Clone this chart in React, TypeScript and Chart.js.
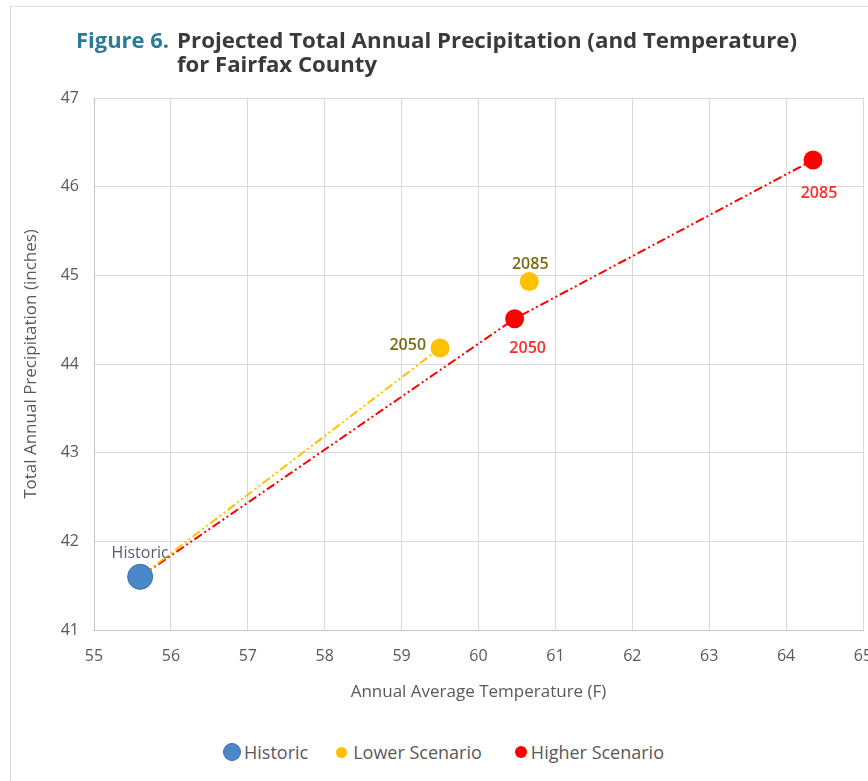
import React, { useEffect, useLayoutEffect, useRef } from 'react';
import { Chart, registerables } from 'chart.js';

Chart.register(...registerables);

// ---- data ----
const X_MIN = 55;
const X_MAX = 65;
const Y_MIN = 41;
const Y_MAX = 47;
const seriesNames = ['Historic', 'Lower Scenario', 'Higher Scenario'];
const historicTemp = [55.6];
const historicPrecip = [41.6];
const historicLabels = ['Historic'];
const scenarioYears = ['2050', '2085'];
const lowerTemp = [59.5, 60.66];
const lowerPrecip = [44.18, 44.93];
const higherTemp = [60.47, 64.35];
const higherPrecip = [44.51, 46.3];

const titleLead = 'Figure 6.';
const titleLine1 = 'Projected Total Annual Precipitation (and Temperature)';
const titleLine2 = 'for Fairfax County';
const xTitle = 'Annual Average Temperature (F)';
const yTitle = 'Total Annual Precipitation (inches)';

const COLORS = {
  historic: '#4a87cb',
  historicBorder: '#3b6ea8',
  lower: '#ffc000',
  higher: '#ff0000',
  lowerText: '#7d6a12',
  higherText: '#ff2a2a',
  historicText: '#5a5a78',
  grid: '#d9d9d9',
  axis: '#c4c4c4',
  text: '#595959',
};

const FONT = "'Open Sans', 'DejaVu Sans', sans-serif";

const toPoints = (xs: number[], ys: number[]) => xs.map((x, i) => ({ x, y: ys[i] }));

const pointLabelPlugin = {
  id: 'pointLabelPlugin',
  afterDatasetsDraw(chart: any) {
    const ctx = chart.ctx;
    chart.data.datasets.forEach((ds: any, di: number) => {
      if (!ds.pointTexts) return;
      const meta = chart.getDatasetMeta(di);
      meta.data.forEach((el: any, i: number) => {
        const off = ds.pointTextOffsets[i];
        ctx.save();
        ctx.font = `${ds.pointTextWeight || 400} 16px ${FONT}`;
        ctx.fillStyle = ds.pointTextColor;
        ctx.textAlign = off.align;
        ctx.textBaseline = 'middle';
        ctx.fillText(ds.pointTexts[i], el.x + off.dx, el.y + off.dy);
        ctx.restore();
      });
    });
  },
};

function FitText({ text, width, style }: { text: string; width: number; style: any }) {
  const ref = useRef<HTMLSpanElement>(null);
  useLayoutEffect(() => {
    const el = ref.current;
    if (!el) return;
    el.style.transform = 'none';
    const w = el.getBoundingClientRect().width;
    if (w > 0) el.style.transform = `scaleX(${width / w})`;
  }, [text, width]);
  return (
    <span
      ref={ref}
      style={{ display: 'inline-block', whiteSpace: 'nowrap', transformOrigin: 'left center', ...style }}
    >
      {text}
    </span>
  );
}

function ChartCanvas() {
  const ref = useRef<HTMLCanvasElement>(null);
  useEffect(() => {
    if (!ref.current) return;
    const chart = new Chart(ref.current, {
      type: 'scatter',
      data: {
        datasets: [
          {
            label: seriesNames[0],
            data: toPoints(historicTemp, historicPrecip),
            backgroundColor: COLORS.historic,
            borderColor: COLORS.historicBorder,
            borderWidth: 1,
            pointRadius: 12.5,
            pointTexts: historicLabels,
            pointTextColor: COLORS.historicText,
            pointTextWeight: 400,
            pointTextOffsets: [{ dx: 0, dy: -23, align: 'center' }],
          } as any,
          {
            label: seriesNames[1],
            data: toPoints(lowerTemp, lowerPrecip),
            backgroundColor: COLORS.lower,
            borderColor: COLORS.lower,
            borderWidth: 0,
            pointRadius: 9.5,
            pointTexts: scenarioYears,
            pointTextColor: COLORS.lowerText,
            pointTextWeight: 600,
            pointTextOffsets: [
              { dx: -14, dy: -3, align: 'right' },
              { dx: 1, dy: -17, align: 'center' },
            ],
          } as any,
          {
            label: seriesNames[2],
            data: toPoints(higherTemp, higherPrecip),
            backgroundColor: COLORS.higher,
            borderColor: COLORS.higher,
            borderWidth: 0,
            pointRadius: 9.5,
            pointTexts: scenarioYears,
            pointTextColor: COLORS.higherText,
            pointTextWeight: 600,
            pointTextOffsets: [
              { dx: 13, dy: 30, align: 'center' },
              { dx: 6, dy: 33, align: 'center' },
            ],
          } as any,
          {
            label: 'lower-trend',
            type: 'line',
            data: toPoints([historicTemp[0], lowerTemp[0]], [historicPrecip[0], lowerPrecip[0]]),
            borderColor: COLORS.lower,
            borderWidth: 2,
            borderDash: [9, 3, 2, 3, 2, 3],
            pointRadius: 0,
            showLine: true,
            fill: false,
          } as any,
          {
            label: 'higher-trend',
            type: 'line',
            data: toPoints([historicTemp[0], ...higherTemp], [historicPrecip[0], ...higherPrecip]),
            borderColor: COLORS.higher,
            borderWidth: 2,
            borderDash: [9, 3, 2, 3, 2, 3],
            pointRadius: 0,
            showLine: true,
            fill: false,
          } as any,
        ],
      },
      options: {
        animation: false,
        responsive: false,
        events: [],
        layout: { padding: { top: 28, left: 16, right: 37, bottom: 0 } },
        plugins: {
          legend: { display: false },
          tooltip: { enabled: false },
        },
        scales: {
          x: {
            type: 'linear',
            min: X_MIN,
            max: X_MAX,
            ticks: { stepSize: 1, padding: 17, color: COLORS.text, font: { family: FONT, size: 16 } },
            grid: { color: COLORS.grid, drawTicks: false },
            border: { color: COLORS.axis },
            title: {
              display: true,
              text: xTitle,
              color: COLORS.text,
              font: { family: FONT, size: 17 },
              padding: { top: 0, bottom: 2 },
            },
            afterFit(scale: any) {
              scale.height = 74;
            },
          },
          y: {
            type: 'linear',
            min: Y_MIN,
            max: Y_MAX,
            ticks: { stepSize: 1, padding: 15, color: COLORS.text, font: { family: FONT, size: 16 } },
            grid: { color: COLORS.grid, drawTicks: false },
            border: { color: COLORS.axis },
            title: {
              display: true,
              text: yTitle,
              color: COLORS.text,
              font: { family: FONT, size: 17 },
              padding: { top: 5, bottom: 0 },
            },
            afterFit(scale: any) {
              scale.width = 78;
            },
          },
        },
      } as any,
      plugins: [pointLabelPlugin],
    });
    return () => chart.destroy();
  }, []);
  return (
    <canvas
      ref={ref}
      width={900}
      height={634}
      style={{ position: 'absolute', left: 0, top: 70, width: 900, height: 634 }}
    />
  );
}

function LegendItem({ color, size, gap, label, border }: any) {
  return (
    <div style={{ display: 'flex', alignItems: 'center' }}>
      <span
        style={{
          display: 'inline-block',
          width: size,
          height: size,
          borderRadius: '50%',
          background: color,
          boxSizing: 'border-box',
          border: border ? `1px solid ${border}` : 'none',
          marginRight: gap,
        }}
      />
      <span style={{ fontFamily: FONT, fontSize: 18, color: COLORS.text, whiteSpace: 'nowrap' }}>{label}</span>
    </div>
  );
}

export default function App() {
  return (
    <div
      style={{
        position: 'fixed',
        left: 0,
        top: 0,
        width: 868,
        height: 781,
        overflow: 'hidden',
        background: '#ffffff',
      }}
    >
      <div
        style={{
          position: 'absolute',
          left: 10,
          top: 6,
          width: 900,
          height: 900,
          borderLeft: '1px solid #d6d6d6',
          borderTop: '1px solid #e2e2e2',
        }}
      />
      <ChartCanvas />
      <div
        style={{
          position: 'absolute',
          left: 76,
          top: 27,
          display: 'flex',
          fontFamily: FONT,
          fontWeight: 700,
          fontSize: 22,
          lineHeight: '24px',
        }}
      >
        <div style={{ width: 101 }}>
          <FitText text={titleLead} width={93} style={{ color: '#2a7b98' }} />
        </div>
        <div style={{ color: '#3a3a3a' }}>
          <div>
            <FitText text={titleLine1} width={620} style={{}} />
          </div>
          <div>
            <FitText text={titleLine2} width={200} style={{}} />
          </div>
        </div>
      </div>
      <div
        style={{
          position: 'absolute',
          left: 223,
          top: 740,
          height: 24,
          display: 'flex',
          alignItems: 'center',
        }}
      >
        <LegendItem color={COLORS.historic} border={COLORS.historicBorder} size={18} gap={3} label={seriesNames[0]} />
        <div style={{ width: 28 }} />
        <LegendItem color={COLORS.lower} size={11} gap={6} label={seriesNames[1]} />
        <div style={{ width: 33 }} />
        <LegendItem color={COLORS.higher} size={12} gap={4} label={seriesNames[2]} />
      </div>
    </div>
  );
}
